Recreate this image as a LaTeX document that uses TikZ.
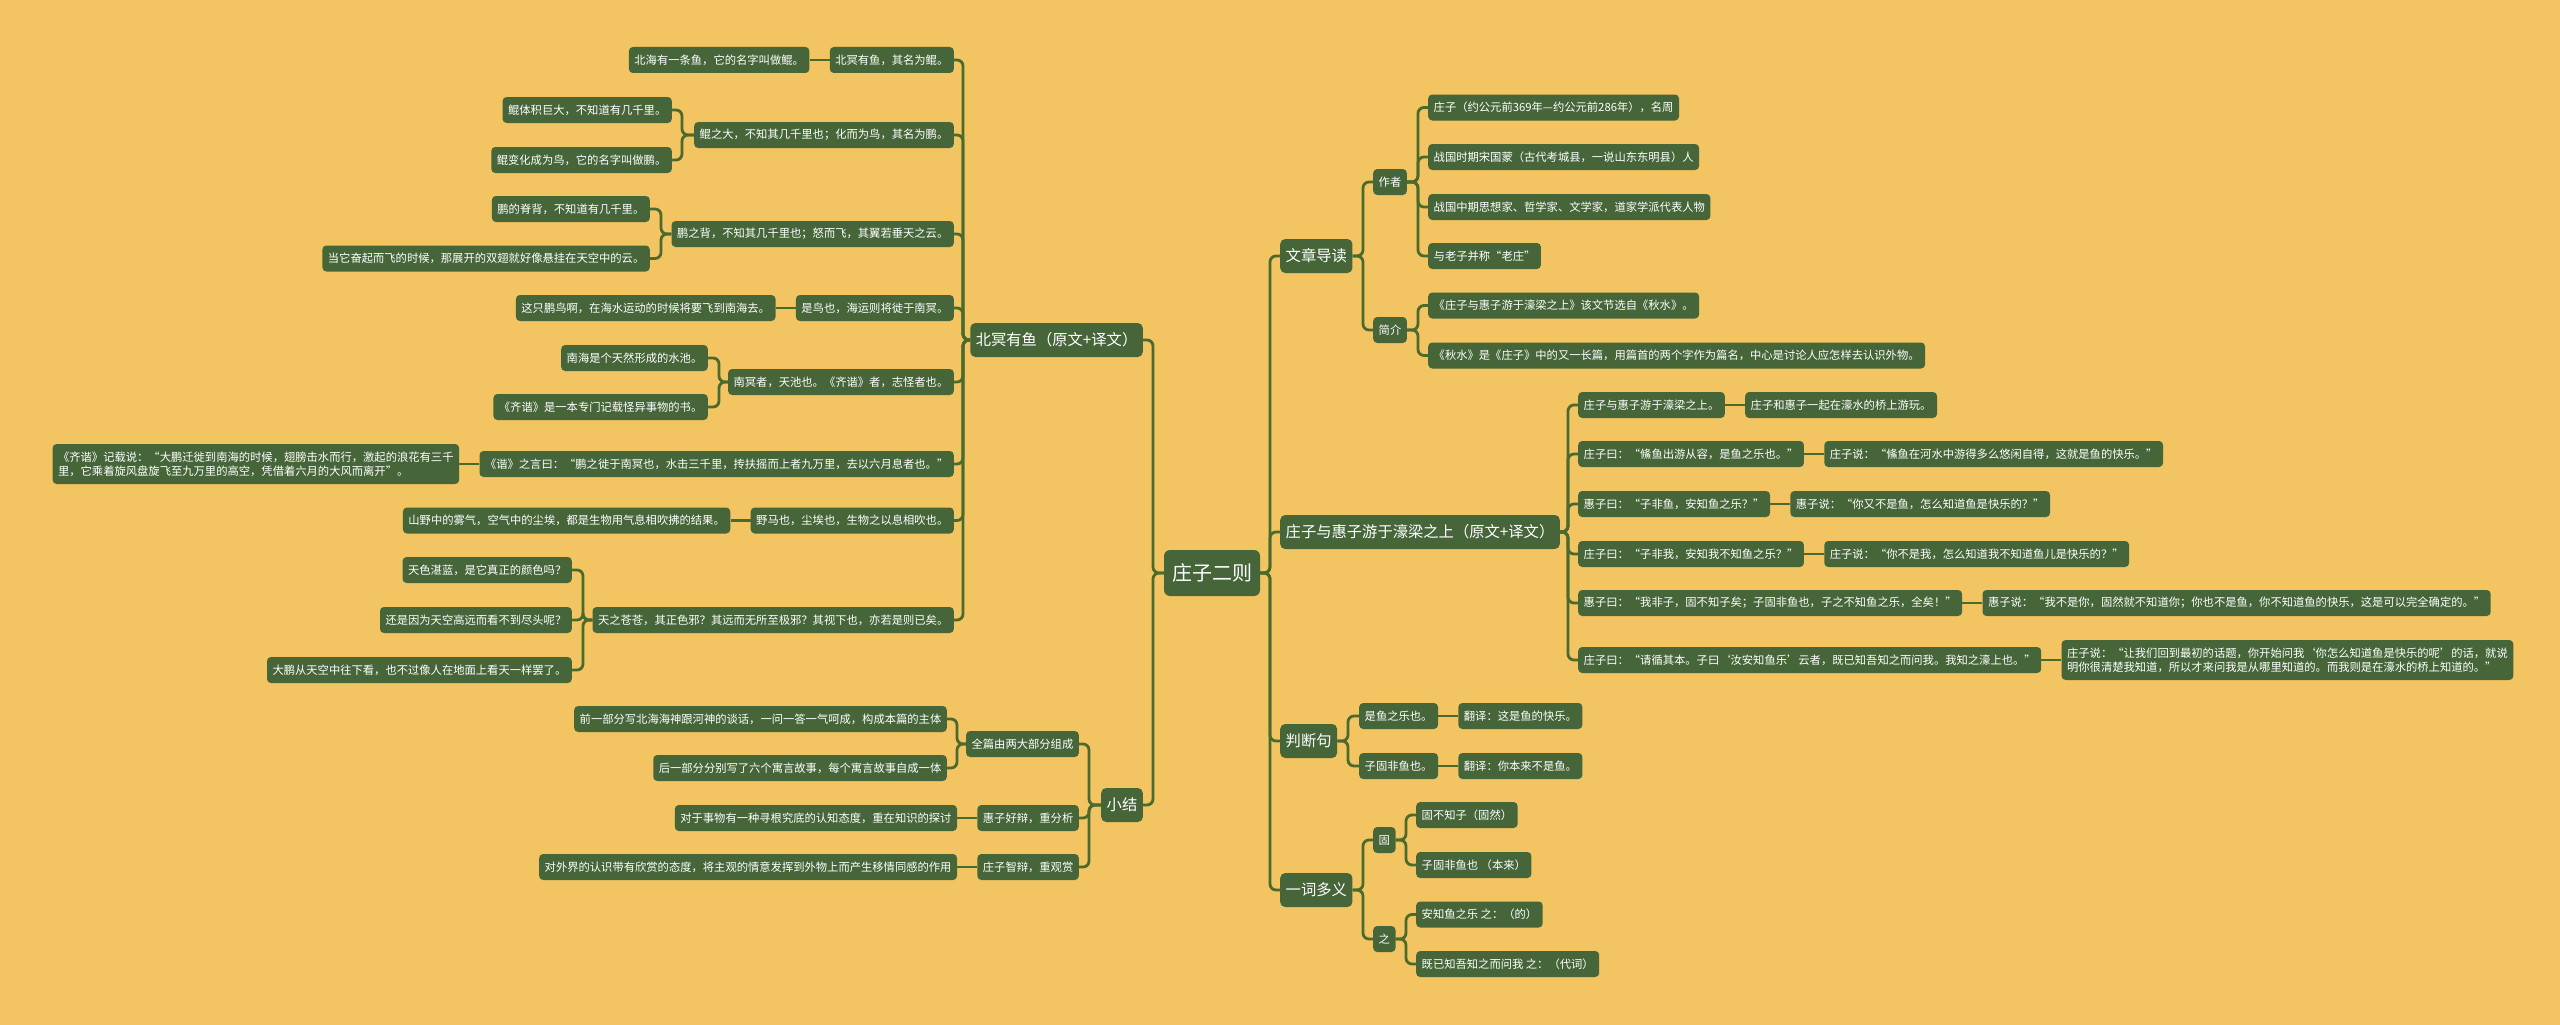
\documentclass[tikz,border=0pt]{standalone}
\usepackage{fontspec}
\setmainfont{Noto Sans CJK SC}
\usetikzlibrary{positioning}
\definecolor{grund}{HTML}{F2C462}
\definecolor{blattgruen}{HTML}{46663A}
\definecolor{astgruen}{HTML}{4A6A2E}
\newcommand{\klein}{\fontsize{11.3}{14}\selectfont}
\newcommand{\mittel}{\fontsize{15.3}{18}\selectfont}
\newcommand{\gross}{\fontsize{20}{24}\selectfont}
\tikzset{blatt/.style={fill=blattgruen,text=white,rounded corners=4pt,inner xsep=5.5pt,
    inner ysep=0pt,minimum height=26pt,font=\klein},
  zweizeilig/.style={blatt,align=left,minimum height=40pt},
  zweig/.style={blatt,minimum height=34pt,font=\mittel,rounded corners=5pt},
  wurzelbox/.style={blatt,minimum height=46pt,inner xsep=8pt,font=\gross,rounded corners=6pt},
  ast/.style={draw=astgruen,line width=2.8pt,rounded corners=6pt}}
\newcommand{\zweigR}[3]{\draw[ast] (#1.east) -- (#1.east -| #2) |- (#3.west);}
\newcommand{\zweigL}[3]{\draw[ast] (#1.west) -- (#1.west -| #2) |- (#3.east);}

\begin{document}
\begin{tikzpicture}[x=1pt,y=-1pt]
\useasboundingbox (0,0) rectangle (2560,1025);
\fill[grund] (0,0) rectangle (2560,1025);
% Wurzel und Hauptaeste
\node[wurzelbox] (wurzel) at (1212,573) {庄子二则};
\node[zweig,anchor=east] (bm) at (1143,340) {北冥有鱼（原文+译文）};
\node[zweig,anchor=east] (xj) at (1143,805) {小结};
\node[zweig,anchor=west] (wz) at (1280,256) {文章导读};
\node[zweig,anchor=west] (hl) at (1280,532) {庄子与惠子游于濠梁之上（原文+译文）};
\node[zweig,anchor=west] (pd) at (1280,741) {判断句};
\node[zweig,anchor=west] (dy) at (1280,890) {一词多义};
\coordinate (kL) at (1153,0);
\coordinate (kR) at (1270,0);
% Nordmeer (links)
\node[blatt,anchor=east] (bm1) at (954,60) {北冥有鱼，其名为鲲。};
\node[blatt,anchor=east] (bm2) at (954,135) {鲲之大，不知其几千里也；化而为鸟，其名为鹏。};
\node[blatt,anchor=east] (bm3) at (954,234) {鹏之背，不知其几千里也；怒而飞，其翼若垂天之云。};
\node[blatt,anchor=east] (bm4) at (954,308) {是鸟也，海运则将徙于南冥。};
\node[blatt,anchor=east] (bm5) at (954,382) {南冥者，天池也。《齐谐》者，志怪者也。};
\node[blatt,anchor=east] (bm6) at (954,464) {《谐》之言曰：“鹏之徙于南冥也，水击三千里，抟扶摇而上者九万里，去以六月息者也。”};
\node[blatt,anchor=east] (bm7) at (954,520.5) {野马也，尘埃也，生物之以息相吹也。};
\node[blatt,anchor=east] (bm8) at (954,620) {天之苍苍，其正色邪？其远而无所至极邪？其视下也，亦若是则已矣。};
\coordinate (kbm) at (963,0);
\node[blatt,left=20pt of bm1] (bm1a) {北海有一条鱼，它的名字叫做鲲。};
\node[blatt,anchor=east] (bm2a) at (672,110) {鲲体积巨大，不知道有几千里。};
\node[blatt,anchor=east] (bm2b) at (672,160) {鲲变化成为鸟，它的名字叫做鹏。};
\coordinate (kbm2) at (682,0);
\node[blatt,anchor=east] (bm3a) at (650,209) {鹏的脊背，不知道有几千里。};
\node[blatt,anchor=east] (bm3b) at (650,258.5) {当它奋起而飞的时候，那展开的双翅就好像悬挂在天空中的云。};
\coordinate (kbm3) at (661,0);
\node[blatt,left=20pt of bm4] (bm4a) {这只鹏鸟啊，在海水运动的时候将要飞到南海去。};
\node[blatt,anchor=east] (bm5a) at (708,358) {南海是个天然形成的水池。};
\node[blatt,anchor=east] (bm5b) at (708,407) {《齐谐》是一本专门记载怪异事物的书。};
\coordinate (kbm5) at (719,0);
\node[zweizeilig,left=20pt of bm6] (bm6a) {《齐谐》记载说：“大鹏迁徙到南海的时候，翅膀击水而行，激起的浪花有三千\\里，它乘着旋风盘旋飞至九万里的高空，凭借着六月的大风而离开”。};
\node[blatt,left=20pt of bm7] (bm7a) {山野中的雾气，空气中的尘埃，都是生物用气息相吹拂的结果。};
\node[blatt,anchor=east] (bm8a) at (572,570) {天色湛蓝，是它真正的颜色吗？};
\node[blatt,anchor=east] (bm8b) at (572,620) {还是因为天空高远而看不到尽头呢？};
\node[blatt,anchor=east] (bm8c) at (572,670) {大鹏从天空中往下看，也不过像人在地面上看天一样罢了。};
\coordinate (kbm8) at (583,0);
% Zusammenfassung
\node[blatt,anchor=east] (xj1) at (1079,744) {全篇由两大部分组成};
\node[blatt,anchor=east] (xj2) at (1079,818) {惠子好辩，重分析};
\node[blatt,anchor=east] (xj3) at (1079,867) {庄子智辩，重观赏};
\coordinate (kxj) at (1089,0);
\node[blatt,anchor=east] (xj1a) at (947,719) {前一部分写北海海神跟河神的谈话，一问一答一气呵成，构成本篇的主体};
\node[blatt,anchor=east] (xj1b) at (947,768) {后一部分分别写了六个寓言故事，每个寓言故事自成一体};
\coordinate (kxj1) at (957,0);
\node[blatt,left=20pt of xj2] (xj2a) {对于事物有一种寻根究底的认知态度，重在知识的探讨};
\node[blatt,left=20pt of xj3] (xj3a) {对外界的认识带有欣赏的态度，将主观的情意发挥到外物上而产生移情同感的作用};
% Einfuehrung
\node[blatt,anchor=west] (zz) at (1373,182) {作者};
\node[blatt,anchor=west] (jj) at (1373,330) {简介};
\coordinate (kwz) at (1363,0);
\node[blatt,anchor=west] (zz1) at (1428,107.5) {庄子（约公元前369年—约公元前286年），名周};
\node[blatt,anchor=west] (zz2) at (1428,157) {战国时期宋国蒙（古代考城县，一说山东东明县）人};
\node[blatt,anchor=west] (zz3) at (1428,207) {战国中期思想家、哲学家、文学家，道家学派代表人物};
\node[blatt,anchor=west] (zz4) at (1428,256) {与老子并称“老庄”};
\node[blatt,anchor=west] (jj1) at (1428,305.5) {《庄子与惠子游于濠梁之上》该文节选自《秋水》。};
\node[blatt,anchor=west] (jj2) at (1428,355.5) {《秋水》是《庄子》中的又一长篇，用篇首的两个字作为篇名，中心是讨论人应怎样去认识外物。};
\coordinate (kzz) at (1418,0);
% Haoliang
\node[blatt,anchor=west] (hl1) at (1578,405) {庄子与惠子游于濠梁之上。};
\node[blatt,anchor=west] (hl2) at (1578,454) {庄子曰：“鯈鱼出游从容，是鱼之乐也。”};
\node[blatt,anchor=west] (hl3) at (1578,504) {惠子曰：“子非鱼，安知鱼之乐？”};
\node[blatt,anchor=west] (hl4) at (1578,554) {庄子曰：“子非我，安知我不知鱼之乐？”};
\node[blatt,anchor=west] (hl5) at (1578,603) {惠子曰：“我非子，固不知子矣；子固非鱼也，子之不知鱼之乐，全矣！”};
\node[blatt,anchor=west] (hl6) at (1578,660) {庄子曰：“请循其本。子曰‘汝安知鱼乐’云者，既已知吾知之而问我。我知之濠上也。”};
\coordinate (khl) at (1568,0);
\node[blatt,right=20pt of hl1] (hl1t) {庄子和惠子一起在濠水的桥上游玩。};
\node[blatt,right=20pt of hl2] (hl2t) {庄子说：“鯈鱼在河水中游得多么悠闲自得，这就是鱼的快乐。”};
\node[blatt,right=20pt of hl3] (hl3t) {惠子说：“你又不是鱼，怎么知道鱼是快乐的？”};
\node[blatt,right=20pt of hl4] (hl4t) {庄子说：“你不是我，怎么知道我不知道鱼儿是快乐的？”};
\node[blatt,right=20pt of hl5] (hl5t) {惠子说：“我不是你，固然就不知道你；你也不是鱼，你不知道鱼的快乐，这是可以完全确定的。”};
\node[zweizeilig,right=20pt of hl6] (hl6t) {庄子说：“让我们回到最初的话题，你开始问我‘你怎么知道鱼是快乐的呢’的话，就说\\明你很清楚我知道，所以才来问我是从哪里知道的。而我则是在濠水的桥上知道的。”};
% Urteilssatz und Mehrdeutigkeit
\node[blatt,anchor=west] (pd1) at (1359,716) {是鱼之乐也。};
\node[blatt,anchor=west] (pd2) at (1359,766) {子固非鱼也。};
\coordinate (kpd) at (1348,0);
\node[blatt,right=20pt of pd1] (pd1t) {翻译：这是鱼的快乐。};
\node[blatt,right=20pt of pd2] (pd2t) {翻译：你本来不是鱼。};
\node[blatt,anchor=west] (gu) at (1373,840) {固};
\node[blatt,anchor=west] (zhi) at (1373,939) {之};
\coordinate (kdy) at (1363,0);
\node[blatt,anchor=west] (gu1) at (1416,815) {固不知子（固然）};
\node[blatt,anchor=west] (gu2) at (1416,865) {子固非鱼也 （本来）};
\node[blatt,anchor=west] (zhi1) at (1416,914.5) {安知鱼之乐 之：（的）};
\node[blatt,anchor=west] (zhi2) at (1416,964) {既已知吾知之而问我 之：（代词）};
\coordinate (kgu) at (1406,0);
% Verbindungen
\foreach \k in {bm,xj} {\zweigL{wurzel}{kL}{\k}}
\foreach \k in {wz,hl,pd,dy} {\zweigR{wurzel}{kR}{\k}}
\foreach \k in {bm1,bm2,bm3,bm4,bm5,bm6,bm7,bm8} {\zweigL{bm}{kbm}{\k}}
\foreach \k in {bm2a,bm2b} {\zweigL{bm2}{kbm2}{\k}}
\foreach \k in {bm3a,bm3b} {\zweigL{bm3}{kbm3}{\k}}
\foreach \k in {bm5a,bm5b} {\zweigL{bm5}{kbm5}{\k}}
\foreach \k in {bm8a,bm8b,bm8c} {\zweigL{bm8}{kbm8}{\k}}
\foreach \k in {1,4,6,7} {\draw[ast] (bm\k.west) -- (bm\k a.east);}
\foreach \k in {xj1,xj2,xj3} {\zweigL{xj}{kxj}{\k}}
\foreach \k in {xj1a,xj1b} {\zweigL{xj1}{kxj1}{\k}}
\foreach \k in {2,3} {\draw[ast] (xj\k.west) -- (xj\k a.east);}
\foreach \k in {zz,jj} {\zweigR{wz}{kwz}{\k}}
\foreach \k in {zz1,zz2,zz3,zz4} {\zweigR{zz}{kzz}{\k}}
\foreach \k in {jj1,jj2} {\zweigR{jj}{kzz}{\k}}
\foreach \k in {1,...,6} {\zweigR{hl}{khl}{hl\k}
  \draw[ast] (hl\k.east) -- (hl\k t.west);}
\foreach \k in {1,2} {\zweigR{pd}{kpd}{pd\k}
  \draw[ast] (pd\k.east) -- (pd\k t.west);}
\foreach \k in {gu,zhi} {\zweigR{dy}{kdy}{\k}}
\foreach \k in {gu1,gu2} {\zweigR{gu}{kgu}{\k}}
\foreach \k in {zhi1,zhi2} {\zweigR{zhi}{kgu}{\k}}
\end{tikzpicture}
\end{document}
